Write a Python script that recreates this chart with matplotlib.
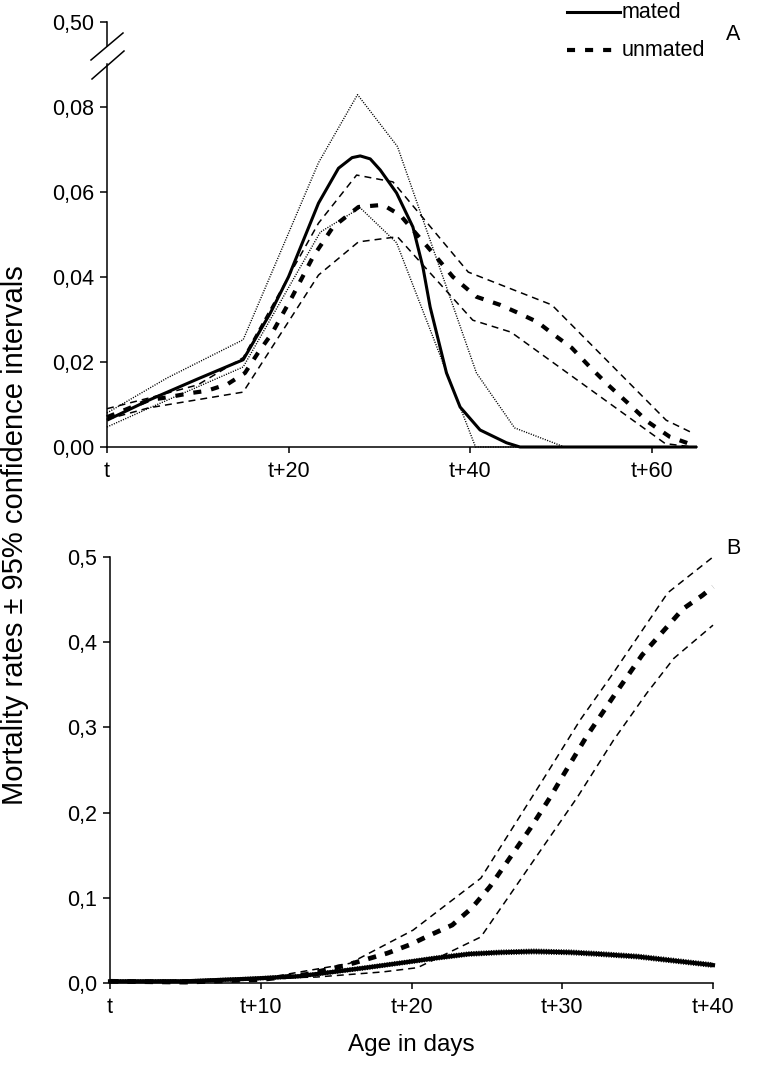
import matplotlib
matplotlib.use("Agg")
import matplotlib.pyplot as plt
from matplotlib.lines import Line2D

plt.rcParams['font.family'] = ['Liberation Sans', 'DejaVu Sans']
plt.rcParams['lines.scale_dashes'] = False

# ---------------- Panel A data (days after t, mortality rate) ----------------
a_mated_x = [0, 4.6, 10, 15, 18, 20, 23.3, 25.5, 27.0, 27.9, 29, 30.1, 31.9, 33.7, 34.8, 35.6,
             37.4, 38.9, 41.1, 44, 45.5, 65]
a_mated = [0.0063, 0.011, 0.016, 0.0205, 0.0315, 0.040, 0.0573, 0.0655, 0.0680, 0.0684, 0.0677,
           0.0651, 0.0597, 0.0517, 0.0423, 0.0329, 0.0174, 0.0094, 0.004, 0.001, 0.0, 0.0]
a_mated_up_x = [0, 6.6, 15, 23.3, 27.6, 32, 40.7, 44.9, 50.4, 65]
a_mated_up = [0.008, 0.0162, 0.0252, 0.0668, 0.0828, 0.0706, 0.0174, 0.0045, 0.0, 0.0]
a_mated_lo_x = [0, 4.7, 15, 23.5, 27.9, 31.9, 40.6, 65]
a_mated_lo = [0.0047, 0.0092, 0.0188, 0.0505, 0.0562, 0.048, 0.0, 0.0]

a_unmated_x = [0, 4.6, 7, 9.3, 11, 13.3, 15.2, 16.6, 18.2, 20.4, 22.7, 24.9, 27.7, 30.4,
               32.3, 33.7, 35.9, 38.1, 40.7, 43.3, 45.1, 47.4, 49.1, 51.2, 53.2, 55.2,
               57.4, 59.6, 62, 64.5]
a_unmated = [0.007, 0.011, 0.0118, 0.0127, 0.0132, 0.0148, 0.0174, 0.022, 0.0268, 0.0353,
             0.0447, 0.0517, 0.0564, 0.0569, 0.0545, 0.051, 0.0456, 0.040, 0.0353, 0.0334,
             0.0317, 0.0294, 0.0266, 0.0233, 0.0188, 0.0146, 0.0103, 0.0059, 0.0024, 0.0005]
a_unmated_up_x = [0, 4.6, 10, 15, 23.3, 27.5, 31.5, 39.8, 49, 61.6, 64.5]
a_unmated_up = [0.009, 0.0115, 0.0146, 0.021, 0.0526, 0.0639, 0.0623, 0.0411, 0.0334,
                0.0063, 0.0033]
a_unmated_lo_x = [0, 4.6, 15, 23.3, 27.7, 32, 40.3, 44.5, 61.5, 64.5]
a_unmated_lo = [0.0065, 0.0092, 0.0129, 0.0404, 0.0482, 0.0494, 0.0298, 0.027, 0.0008, 0.0]

a_xticks = [0, 20, 40, 60]
a_xlabels = ['t', 't+20', 't+40', 't+60']
a_yticks = [0.0, 0.02, 0.04, 0.06, 0.08]
a_ylabels = ['0,00', '0,02', '0,04', '0,06', '0,08']

# ---------------- Panel B data ----------------
b_mated_x = [0, 5, 9.3, 12.6, 14.8, 17, 19.9, 21.5, 23.8, 26, 28.1, 30.5, 32.5, 35, 37, 40]
b_mated = [0.002, 0.002, 0.005, 0.008, 0.013, 0.018, 0.025, 0.029, 0.034, 0.036, 0.037,
           0.036, 0.034, 0.031, 0.027, 0.021]
b_mated_up = [0.0035, 0.0035, 0.0068, 0.0098, 0.0150, 0.0202, 0.0272, 0.0313, 0.0364,
              0.0385, 0.0396, 0.0386, 0.0366, 0.0336, 0.0296, 0.0235]
b_mated_lo = [0.0008, 0.0008, 0.0033, 0.0062, 0.0110, 0.0158, 0.0228, 0.0267, 0.0316,
              0.0335, 0.0344, 0.0334, 0.0314, 0.0284, 0.0244, 0.0185]

b_unmated_x = [0, 5, 10, 13, 15.7, 18.4, 19.9, 21.2, 22.7, 24, 25.2, 26.1, 27.9, 29.2, 30,
               31.6, 33.5, 35.3, 37, 38, 39.3, 40]
b_unmated = [0.002, 0.001, 0.004, 0.01, 0.021, 0.035, 0.045, 0.056, 0.068, 0.088, 0.113,
             0.136, 0.182, 0.218, 0.242, 0.289, 0.339, 0.385, 0.419, 0.439, 0.455, 0.465]
b_unmated_up_x = [0, 10, 15.9, 20.1, 24.6, 28.7, 31.2, 33.2, 37, 40]
b_unmated_up = [0.002, 0.005, 0.023, 0.062, 0.123, 0.238, 0.309, 0.359, 0.458, 0.50]
b_unmated_lo_x = [0, 13.7, 18.1, 20.4, 24.6, 28.5, 31, 33.4, 35.6, 37.4, 40]
b_unmated_lo = [0.001, 0.007, 0.013, 0.018, 0.054, 0.154, 0.218, 0.285, 0.34, 0.381, 0.42]

b_xticks = [0, 10, 20, 30, 40]
b_xlabels = ['t', 't+10', 't+20', 't+30', 't+40']
b_yticks = [0.0, 0.1, 0.2, 0.3, 0.4, 0.5]
b_ylabels = ['0,0', '0,1', '0,2', '0,3', '0,4', '0,5']

W, H = 772, 1067
fig = plt.figure(figsize=(W / 100, H / 100), dpi=100)

def fx(x):
    return x / W

def fy(y):
    return 1 - y / H

TICK_FS = 15.5
LABEL_FS = 17.5
SOLID = dict(color='black', lw=2.2, solid_capstyle='butt', solid_joinstyle='round')
THICKDASH = dict(color='black', lw=3.0, dashes=(5.8, 7.2))
THINDASH = dict(color='black', lw=1.1, dashes=(5.0, 3.6))
DOTTED = dict(color='black', lw=1.0, dashes=(0.8, 1.0))

def style_axes(ax):
    for s in ['top', 'right']:
        ax.spines[s].set_visible(False)
    for s in ['left', 'bottom']:
        ax.spines[s].set_linewidth(1.1)
    ax.tick_params(direction='out', width=1.1, labelsize=TICK_FS)
    ax.tick_params(axis='y', length=5.2, pad=4)
    ax.tick_params(axis='x', length=4.2, pad=6)

# ---------------- Panel A ----------------
axA = fig.add_axes([fx(107), fy(447), fx(697) - fx(107), fy(64) - fy(447)])
axA.plot(a_mated_up_x, a_mated_up, **DOTTED)
axA.plot(a_mated_lo_x, a_mated_lo, **DOTTED)
axA.plot(a_unmated_up_x, a_unmated_up, **THINDASH)
axA.plot(a_unmated_lo_x, a_unmated_lo, **THINDASH)
axA.plot(a_unmated_x, a_unmated, **THICKDASH)
axA.plot(a_mated_x, a_mated, **SOLID)
axA.set_xlim(0, 65)
axA.set_ylim(0, 0.09)
axA.set_xticks(a_xticks)
axA.set_xticklabels(a_xlabels)
axA.set_yticks(a_yticks)
axA.set_yticklabels(a_ylabels)
style_axes(axA)

# upper stub of broken axis
axA2 = fig.add_axes([fx(107), fy(46), fx(697) - fx(107), fy(22) - fy(46)])
axA2.set_ylim(0.49, 0.50)
axA2.set_xlim(0, 65)
for s in ['top', 'right', 'bottom']:
    axA2.spines[s].set_visible(False)
axA2.spines['left'].set_linewidth(1.1)
axA2.set_xticks([])
axA2.set_yticks([0.50])
axA2.set_yticklabels(['0,50'])
axA2.tick_params(direction='out', length=5.2, width=1.1, labelsize=TICK_FS, pad=4)
axA2.patch.set_visible(False)

# break slashes
for (x0, y0, x1, y1) in [(91, 60, 123, 33), (92, 79, 124, 51)]:
    fig.add_artist(Line2D([fx(x0), fx(x1)], [fy(y0), fy(y1)], color='black', lw=1.1))

# legend
fig.add_artist(Line2D([fx(567), fx(620)], [fy(12), fy(12)], color='black', lw=2.2))
fig.add_artist(Line2D([fx(567), fx(620)], [fy(50), fy(50)], color='black', lw=3.0,
                      dashes=(5.8, 7.2)))
fig.text(fx(622), fy(13), 'mated', fontsize=TICK_FS, va='center', ha='left')
fig.text(fx(622), fy(51), 'unmated', fontsize=TICK_FS, va='center', ha='left')
fig.text(fx(733), fy(35), 'A', fontsize=TICK_FS, va='center', ha='center')

# ---------------- Panel B ----------------
axB = fig.add_axes([fx(110), fy(983), fx(713) - fx(110), fy(557) - fy(983)])
axB.plot(b_unmated_up_x, b_unmated_up, **THINDASH)
axB.plot(b_unmated_lo_x, b_unmated_lo, **THINDASH)
axB.plot(b_unmated_x, b_unmated, color='black', lw=3.4, dashes=(6.0, 6.5))
axB.plot(b_mated_x, b_mated, color='black', lw=3.0)
axB.plot(b_mated_x, b_mated_up, **DOTTED)
axB.plot(b_mated_x, b_mated_lo, **DOTTED)
axB.set_xlim(0, 40)
axB.set_ylim(0, 0.5)
axB.set_xticks(b_xticks)
axB.set_xticklabels(b_xlabels)
axB.set_yticks(b_yticks)
axB.set_yticklabels(b_ylabels)
style_axes(axB)
for ax in (axA, axB):
    for line in ax.get_lines():
        line.set_clip_on(False)

fig.text(fx(733), fy(548), 'B', fontsize=TICK_FS, va='center', ha='center')

fig.text(fx(15), fy(535), 'Mortality rates \u00b1 95% confidence intervals', fontsize=21,
         rotation=90, va='center', ha='center')
fig.text(fx(411), fy(1045), 'Age in days', fontsize=LABEL_FS, va='center', ha='center')

fig.savefig('out.png', dpi=100)
